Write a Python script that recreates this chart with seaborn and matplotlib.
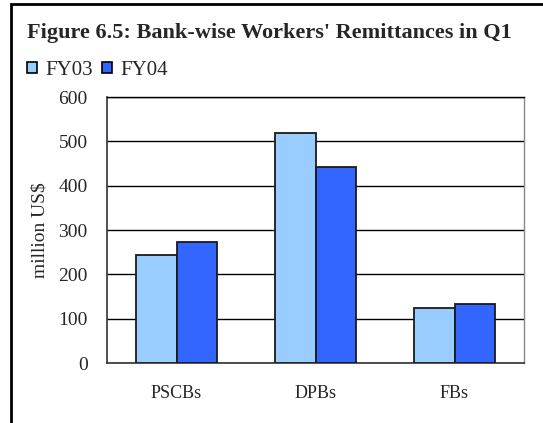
import matplotlib
matplotlib.use("Agg")
import matplotlib.pyplot as plt
import seaborn as sns
import pandas as pd
from matplotlib.patches import Rectangle

categories = ["PSCBs", "DPBs", "FBs"]
fy03 = [244, 519, 124]
fy04 = [273, 442, 133]
series = ["FY03", "FY04"]
yticks = [0, 100, 200, 300, 400, 500, 600]

df = pd.DataFrame({
    "bank": categories * 2,
    "value": fy03 + fy04,
    "year": ["FY03"] * 3 + ["FY04"] * 3,
})

sns.set_theme(style="white")
plt.rcParams["font.family"] = ["Liberation Serif", "DejaVu Serif"]

fig = plt.figure(figsize=(5.43, 4.23), dpi=100)
ax = fig.add_axes([107 / 543, 1 - 363 / 423, (524 - 107) / 543, (363 - 97) / 423])

palette = {"FY03": "#99CCFF", "FY04": "#3366FF"}
sns.barplot(data=df, x="bank", y="value", hue="year", order=categories,
            hue_order=series, palette=palette, width=0.58, gap=0,
            edgecolor="#1a1a1a", linewidth=1.3, saturation=1, ax=ax, zorder=3)

ax.set_ylim(0, 600)
ax.set_xlim(-0.5, 2.5)
ax.set_yticks(yticks)
ax.set_yticklabels([str(v) for v in yticks], fontsize=14)
ax.yaxis.grid(True, color="black", linewidth=1.0, zorder=0)
ax.set_axisbelow(True)
ax.set_xlabel("")
ax.set_ylabel("million US$", fontsize=14, labelpad=7)
ax.tick_params(axis="x", which="major", length=0, pad=16)
ax.set_xticks([-0.5, 0.5, 1.5, 2.5], minor=True)
ax.tick_params(axis="x", which="minor", length=5, color="#333333", direction="out")
ax.tick_params(axis="y", length=4, color="#333333", direction="out", pad=10)
for lbl in ax.get_xticklabels():
    lbl.set_fontsize(13)

for side in ["left", "bottom"]:
    ax.spines[side].set_color("#333333")
    ax.spines[side].set_linewidth(1.2)
ax.spines["top"].set_color("black")
ax.spines["top"].set_linewidth(1.0)
ax.spines["right"].set_color("#888888")
ax.spines["right"].set_linewidth(1.0)

leg = ax.legend(loc="center left", bbox_to_anchor=(-0.212, 1.10), ncol=2,
                frameon=False, fontsize=15, handlelength=0.5, handleheight=0.5,
                handletextpad=0.4, columnspacing=0.4, borderaxespad=0)
for h in leg.legend_handles:
    h.set_edgecolor("black")
    h.set_linewidth(1.2)

fig.text(27 / 543, 1 - 33 / 423, "Figure 6.5: Bank-wise Workers' Remittances in Q1",
         fontsize=16, fontweight="bold", va="center", ha="left")

fig.patches.append(Rectangle((11 / 543, -0.1), 1.2, 1 - 4 / 423 + 0.1,
                             transform=fig.transFigure, fill=False,
                             edgecolor="black", linewidth=2))

fig.savefig("out.png", dpi=100)
